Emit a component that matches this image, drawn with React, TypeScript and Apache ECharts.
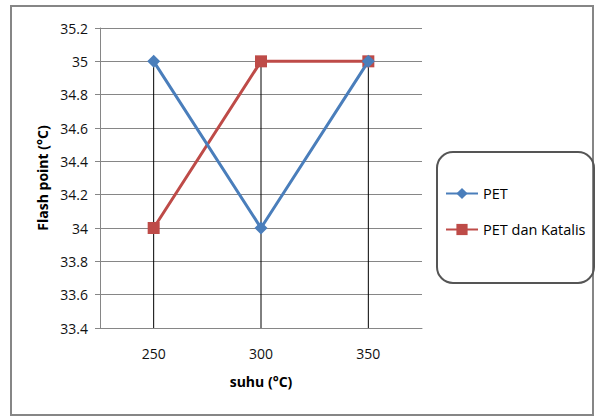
import React, { useEffect, useRef } from "react";
import * as echarts from "echarts";

const categories = ["250", "300", "350"];
const petValues = [35, 34, 35];
const katalisValues = [34, 35, 35];
const yMin = 33.4;
const yMax = 35.2;
const yStep = 0.2;

const FONT = "'Open Sans', 'Noto Sans', sans-serif";

export default function App() {
  const ref = useRef<HTMLDivElement>(null);

  useEffect(() => {
    if (!ref.current) return;
    const chart = echarts.init(ref.current, undefined, { renderer: "svg" });
    const dropData = categories.map((_, i) => [i, Math.max(petValues[i], katalisValues[i])]);

    chart.setOption({
      animation: false,
      backgroundColor: "#ffffff",
      grid: { left: 100, top: 28, right: 176, bottom: 89, containLabel: false },
      xAxis: {
        type: "category",
        data: categories,
        boundaryGap: true,
        name: "suhu (°C)",
        nameLocation: "middle",
        nameGap: 46,
        nameTextStyle: { fontFamily: FONT, fontWeight: "bold", fontSize: 14, color: "#000" },
        axisLine: { show: true, lineStyle: { color: "#868686", width: 1 } },
        axisTick: { show: false },
        axisLabel: { fontFamily: FONT, fontSize: 14, color: "#111", margin: 18 },
        splitLine: { show: false },
      },
      yAxis: {
        type: "value",
        min: yMin,
        max: yMax,
        interval: yStep,
        name: "Flash point (°C)",
        nameLocation: "middle",
        nameRotate: 90,
        nameGap: 49,
        nameTextStyle: { fontFamily: FONT, fontWeight: "bold", fontSize: 14, color: "#000" },
        axisLine: { show: true, lineStyle: { color: "#868686", width: 1 } },
        axisTick: { show: true, length: 5, lineStyle: { color: "#868686" } },
        axisLabel: {
          fontFamily: FONT,
          fontSize: 14,
          color: "#111",
          margin: 12,
          formatter: (v: number) => String(Math.round(v * 10) / 10),
        },
        splitLine: { show: true, lineStyle: { color: "#868686", width: 1 } },
      },
      legend: {
        orient: "vertical",
        left: 445,
        top: 186,
        padding: 0,
        itemWidth: 32,
        itemHeight: 14,
        itemGap: 21,
        textStyle: { fontFamily: FONT, fontSize: 14.5, color: "#000" },
        data: ["PET", "PET dan Katalis"],
      },
      graphic: [
        {
          type: "rect",
          shape: { x: 11, y: 6, width: 582, height: 409 },
          style: { fill: "none", stroke: "#868686", lineWidth: 2 },
          silent: true,
        },
        {
          type: "rect",
          shape: { x: 437, y: 152, width: 157, height: 131, r: 16 },
          style: { fill: "none", stroke: "#555555", lineWidth: 2 },
          silent: true,
        },
      ],
      series: [
        {
          type: "custom",
          name: "drop",
          data: dropData,
          z: 1,
          silent: true,
          renderItem: (params: any, api: any) => {
            const top = api.coord([api.value(0), api.value(1)]);
            const bottom = api.coord([api.value(0), yMin]);
            return {
              type: "line",
              shape: { x1: top[0], y1: top[1], x2: bottom[0], y2: bottom[1] },
              style: { stroke: "#000000", lineWidth: 1 },
            };
          },
        },
        {
          type: "line",
          name: "PET",
          data: petValues,
          z: 3,
          symbol: "diamond",
          symbolSize: 13,
          lineStyle: { color: "#4a7ebb", width: 3 },
          itemStyle: { color: "#4a7ebb" },
        },
        {
          type: "line",
          name: "PET dan Katalis",
          data: katalisValues,
          z: 2,
          symbol: "rect",
          symbolSize: 12,
          lineStyle: { color: "#be4b48", width: 3 },
          itemStyle: { color: "#be4b48" },
        },
      ],
    });
    return () => chart.dispose();
  }, []);

  return (
    <div
      ref={ref}
      style={{ position: "fixed", left: 0, top: 0, width: 598, height: 417 }}
    />
  );
}
